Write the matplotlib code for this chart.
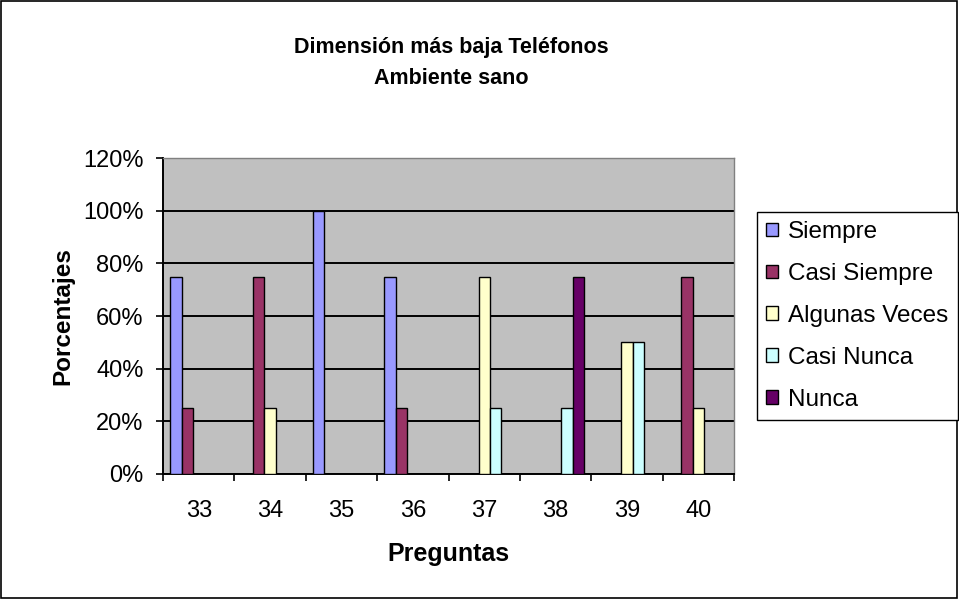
import matplotlib
matplotlib.use("Agg")
import matplotlib.pyplot as plt
import numpy as np
from matplotlib.patches import Rectangle

plt.rcParams['font.family'] = ['Liberation Sans', 'DejaVu Sans']

categories = ["33", "34", "35", "36", "37", "38", "39", "40"]
series_names = ["Siempre", "Casi Siempre", "Algunas Veces", "Casi Nunca", "Nunca"]
siempre = [75, 0, 100, 75, 0, 0, 0, 0]
casi_siempre = [25, 75, 0, 25, 0, 0, 0, 75]
algunas_veces = [0, 25, 0, 0, 75, 0, 50, 25]
casi_nunca = [0, 0, 0, 0, 25, 25, 50, 0]
nunca = [0, 0, 0, 0, 0, 75, 0, 0]
yticks = [0, 20, 40, 60, 80, 100, 120]
colors = ["#9999FF", "#993366", "#FFFFCC", "#CCFFFF", "#660066"]

values = [siempre, casi_siempre, algunas_veces, casi_nunca, nunca]

fs = 17
fig = plt.figure(figsize=(9.59, 5.99), dpi=100)
fig.patches.append(Rectangle((0.001, 0.002), 0.997, 0.996, transform=fig.transFigure,
                             fill=False, edgecolor="black", linewidth=1.2))
ax = fig.add_axes([0.170, 0.2087, 0.5954, 0.5275])
ax.set_facecolor("#C0C0C0")

x = np.arange(len(categories))
w = 0.16
handles = []
for i, (name, vals, col) in enumerate(zip(series_names, values, colors)):
    offs = (i - 2) * w
    h = ax.bar(x + offs, vals, width=w, color=col, edgecolor="black", linewidth=1.0,
               label=name, zorder=3)
    handles.append(h)

ax.set_xlim(-0.5, len(categories) - 0.5)
ax.set_ylim(0, 120)
ax.set_yticks(yticks)
ax.set_yticklabels([f"{v}%" for v in yticks], fontsize=fs)
ax.yaxis.grid(True, color="black", linewidth=1.4, zorder=1)
ax.set_axisbelow(True)

ax.set_xticks(x)
ax.set_xticklabels(categories, fontsize=fs)
ax.tick_params(axis="x", length=0, pad=19)
ax.set_xticks(np.arange(-0.5, len(categories)), minor=True)
ax.tick_params(axis="x", which="minor", length=5, width=1.2, direction="out")
ax.tick_params(axis="y", length=5, width=1.2, direction="out", pad=9)

for side in ["top", "right"]:
    ax.spines[side].set_color("#808080")
    ax.spines[side].set_linewidth(1.0)
for side in ["left", "bottom"]:
    ax.spines[side].set_color("black")
    ax.spines[side].set_linewidth(1.4)

ax.set_ylabel("Porcentajes", fontsize=17.5, fontweight="bold", labelpad=6)
ax.set_xlabel("Preguntas", fontsize=18, fontweight="bold", labelpad=14)

fig.text(0.4705, 1 - 47 / 599, "Dimensión más baja Teléfonos", ha="center", va="center",
         fontsize=15.5, fontweight="bold")
fig.text(0.4705, 1 - 79 / 599, "Ambiente sano", ha="center", va="center",
         fontsize=15.5, fontweight="bold")

leg = fig.legend(handles=handles, labels=series_names, loc="center left",
                 bbox_to_anchor=(757 / 959, 1 - 316 / 599), fontsize=17.5,
                 frameon=True, fancybox=False, edgecolor="black", framealpha=1,
                 handlelength=0.5, handleheight=0.5, handletextpad=0.4,
                 labelspacing=0.82, borderpad=0.38, borderaxespad=0)
leg.get_frame().set_linewidth(1.0)

fig.savefig("out.png", dpi=100)
